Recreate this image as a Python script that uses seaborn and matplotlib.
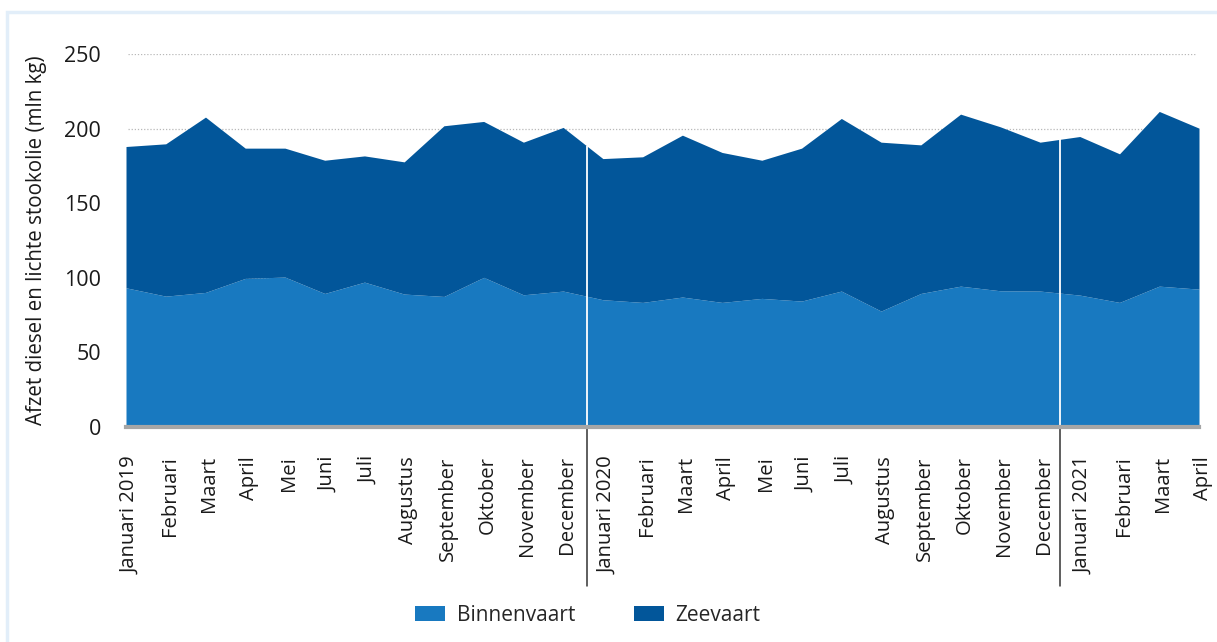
import numpy as np
import pandas as pd
import matplotlib
matplotlib.use("Agg")
import matplotlib.pyplot as plt
import matplotlib.transforms as mtransforms
from matplotlib.patches import Rectangle, Patch
import seaborn as sns

# Maandelijkse afzet (mln kg), jan 2019 t/m apr 2021
months = ["Januari 2019", "Februari", "Maart", "April", "Mei", "Juni", "Juli",
          "Augustus", "September", "Oktober", "November", "December",
          "Januari 2020", "Februari", "Maart", "April", "Mei", "Juni", "Juli",
          "Augustus", "September", "Oktober", "November", "December",
          "Januari 2021", "Februari", "Maart", "April"]

binnenvaart = [93.3, 87.7, 90.2, 99.6, 100.5, 89.5, 97.1, 89.1, 87.5, 100.3, 88.6, 91.1,
               85.3, 83.5, 87.1, 83.5, 86.2, 84.4, 91.1, 77.7, 89.5, 94.4, 91.3, 91.1,
               88.4, 83.5, 94.4, 92.4]

totaal = [188.0, 189.8, 207.7, 186.9, 186.9, 178.8, 181.7, 177.7, 201.9, 204.8, 190.9, 200.8,
          179.9, 181.1, 195.6, 184.0, 178.8, 186.9, 206.8, 190.9, 189.1, 209.7, 201.2, 190.9,
          194.7, 183.1, 211.5, 200.3]

zeevaart = [t - b for t, b in zip(totaal, binnenvaart)]

series_names = ["Binnenvaart", "Zeevaart"]
colors = ["#1879c0", "#02569a"]

# scheidingslijnen tussen de jaren (positie op de maand-as)
year_breaks = [11.6, 23.5]

df = pd.DataFrame({"maand": months, "Binnenvaart": binnenvaart, "Zeevaart": zeevaart})
x = np.arange(len(df))

sns.set_theme(style="white")
plt.rcParams["font.family"] = ["Open Sans", "DejaVu Sans"]

fig = plt.figure(figsize=(12.17, 6.42), dpi=100)
ax = fig.add_axes([126 / 1217, 1 - 427 / 642, (1199 - 126) / 1217, (427 - 54) / 642])

# lichtblauw kader rond de figuur
fig.patches.append(Rectangle((7 / 1217, -0.1), 1.2, 1.1 - 12 / 642, transform=fig.transFigure,
                             fill=False, edgecolor="#e2eef9", lw=2.5))

# gestippelde hulplijnen
for yv in [50, 100, 150, 200, 250]:
    ax.axhline(yv, xmin=0.002, xmax=0.996, color="#b8b8b8", lw=0.9, ls=(0, (1, 1.5)), zorder=0)

ax.stackplot(x, df["Binnenvaart"], df["Zeevaart"], colors=colors, linewidth=0,
             labels=series_names, zorder=2)

# jaarscheiding: wit in het vlak, donker onder de as
tot = df["Binnenvaart"] + df["Zeevaart"]
trans = mtransforms.blended_transform_factory(ax.transData, ax.transAxes)
for pos in year_breaks:
    ax.vlines(pos, 0, np.interp(pos, x, tot), color="white", lw=1.3, zorder=3)
    ax.plot([pos, pos], [0, -0.425], transform=trans, color="#333333", lw=1.1,
            clip_on=False, zorder=3)

ax.set_xlim(0, len(df) - 1)
ax.set_ylim(0, 250)
ax.set_yticks([0, 50, 100, 150, 200, 250])
ax.set_xticks(x)
ax.set_xticklabels(months)
ax.set_ylabel("Afzet diesel en lichte stookolie (mln kg)", fontsize=14.8, color="#1a1a1a")
ax.yaxis.set_label_coords(-0.074, 0.5)

sns.despine(ax=ax, left=True, top=True, right=True)
ax.spines["bottom"].set_color("#a6a6a6")
ax.spines["bottom"].set_linewidth(3)
ax.spines["bottom"].set_zorder(4)

ax.yaxis.set_tick_params(length=0, pad=18, labelsize=15.5, labelcolor="#1a1a1a")
ax.xaxis.set_tick_params(length=0, pad=21, labelsize=14.6, labelcolor="#1a1a1a",
                         labelrotation=90)

# labels iets naar rechts, zoals in het origineel
shift = mtransforms.ScaledTranslation(4 / 100, 0, fig.dpi_scale_trans)
for lab in ax.get_xticklabels():
    lab.set_transform(lab.get_transform() + shift)

handles = [Patch(facecolor=c, edgecolor="none") for c in colors]
fig.legend(handles, series_names, loc="center", bbox_to_anchor=(0.483, 0.042), ncol=2,
           frameon=False, fontsize=15, handlelength=1.45, handleheight=0.75,
           handletextpad=0.55, columnspacing=2.8)

fig.savefig("out.png", dpi=100)
